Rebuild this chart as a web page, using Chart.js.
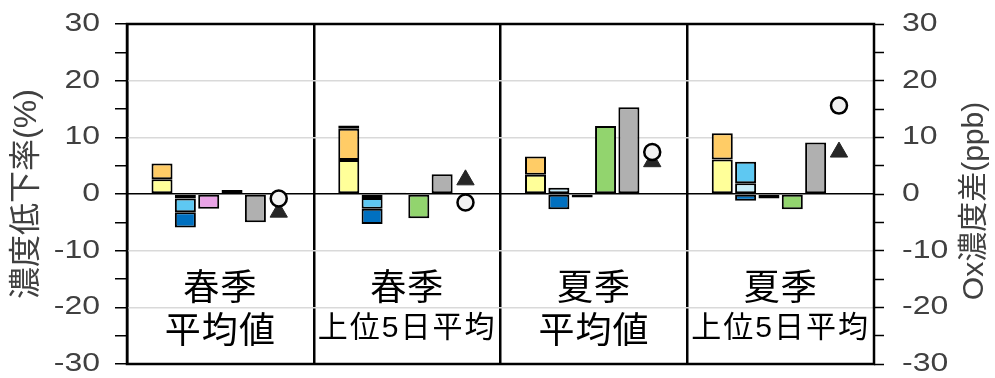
<!DOCTYPE html>
<html>
<head>
<meta charset="utf-8">
<script src="https://cdn.jsdelivr.net/npm/chart.js@4.4.1/dist/chart.umd.min.js"></script>
<style>
  html, body { margin: 0; padding: 0; background: #fff; }
  canvas { display: block; }
</style>
</head>
<body>
<canvas id="chart" width="995" height="378"></canvas>
<script>
// 4 panels: season / period
const seasons = ['春季', '春季', '夏季', '夏季'];
const periods = ['平均値', '上位5日平均', '平均値', '上位5日平均'];

// 濃度低下率(%) - stacked bar 1
const yellowPart = [2.6, 6.0, 3.4, 6.1];
const orangePart = [2.8, 5.5, 3.2, 4.6];
const brownPart = [null, 0.6, null, null];
// stacked bar 2
const palePart = [-0.8, -0.7, 1.1, 1.9];
const skyPart = [-2.4, -1.9, null, 3.8];
const bluePart = [-2.7, -2.7, -2.7, -1.2];
// single bars
const pinkBar = [-2.6, 0.2, -0.6, -0.8];
const greenBar = [0.7, -4.3, 12.0, -2.7];
const grayBar = [-5.0, 3.5, 15.3, 9.1];

// Ox濃度差(ppb)
const oxCircle = [-0.8, -1.5, 7.4, 15.6];
const oxTriangle = [-3.2, 2.5, 5.7, 7.4];

const yTicks = [-30, -20, -10, 0, 10, 20, 30];

// each panel has 8 slots: empty, bar1, bar2, pink, green, gray, markers, empty
const SLOTS = 8;
const slotLabels = [];
for (let p = 0; p < seasons.length; p++) {
	for (let s = 0; s < SLOTS; s++) {
		slotLabels.push(p + '-' + s);
	}
}

function spread(values, slot) {
	const out = new Array(slotLabels.length).fill(null);
	for (let p = 0; p < values.length; p++) {
		out[p * SLOTS + slot] = values[p];
	}
	return out;
}

function barSet(values, slot, color) {
	return {
		data: spread(values, slot),
		backgroundColor: color,
		borderColor: '#000000',
		borderWidth: 2,
		borderSkipped: false,
		barPercentage: 0.9,
		categoryPercentage: 1.0,
		yAxisID: 'y',
	};
}

const datasets = [
	{
		type: 'line',
		data: spread(oxCircle, 6),
		yAxisID: 'y2',
		showLine: false,
		pointStyle: 'circle',
		pointRadius: 8,
		pointBackgroundColor: '#f2f2f2',
		pointBorderColor: '#000000',
		pointBorderWidth: 2.5,
	},
	{
		type: 'line',
		data: spread(oxTriangle, 6),
		yAxisID: 'y2',
		showLine: false,
		pointStyle: 'triangle',
		pointRadius: 10,
		pointBackgroundColor: '#262626',
		pointBorderColor: '#262626',
		pointBorderWidth: 1,
	},
	barSet(yellowPart, 1, '#ffff99'),
	barSet(orangePart, 1, '#ffcc66'),
	barSet(brownPart, 1, '#c55a11'),
	barSet(palePart, 2, '#c9eefa'),
	barSet(skyPart, 2, '#5ec8f2'),
	barSet(bluePart, 2, '#0070c0'),
	barSet(pinkBar, 3, '#e9a3e6'),
	barSet(greenBar, 4, '#92d46e'),
	barSet(grayBar, 5, '#b0b0b0'),
];

// tick labels are drawn a little wide, like the original sheet
function drawTickLabels(ctx, scale, x, align) {
	ctx.save();
	ctx.fillStyle = '#404040';
	ctx.font = '25px "Liberation Sans"';
	ctx.textAlign = align;
	ctx.textBaseline = 'middle';
	for (const t of scale.ticks) {
		if (!yTicks.includes(t.value)) continue;
		const y = scale.getPixelForValue(t.value);
		ctx.save();
		ctx.translate(x, y);
		ctx.scale(1.28, 1);
		ctx.fillText(String(t.value), 0, 0);
		ctx.restore();
	}
	ctx.restore();
}

// frame, panel captions, tick labels and rotated axis titles
const decorations = {
	id: 'decorations',
	afterDraw(chart) {
		const { ctx, chartArea, scales } = chart;
		ctx.save();
		ctx.strokeStyle = '#000000';
		ctx.lineWidth = 2.5;
		ctx.strokeRect(chartArea.left, chartArea.top, chartArea.right - chartArea.left, chartArea.bottom - chartArea.top);

		ctx.fillStyle = '#000000';
		ctx.textAlign = 'center';
		ctx.textBaseline = 'middle';
		for (let p = 0; p < seasons.length; p++) {
			const cx = (scales.x.getPixelForValue(p * SLOTS + 3) + scales.x.getPixelForValue(p * SLOTS + 4)) / 2;
			ctx.letterSpacing = '1px';
			ctx.font = '36px "Noto Sans CJK JP"';
			ctx.fillText(seasons[p], cx, scales.y.getPixelForValue(-16.3));
			if (periods[p].length > 3) {
				ctx.letterSpacing = '2px';
				ctx.font = '30px "Liberation Sans", "Noto Sans CJK JP"';
			}
			ctx.fillText(periods[p], cx, scales.y.getPixelForValue(-23.8));
		}
		ctx.letterSpacing = '0px';

		ctx.fillStyle = '#404040';
		ctx.font = '32px "Liberation Sans", "Noto Sans CJK JP"';
		ctx.translate(27, (chartArea.top + chartArea.bottom) / 2);
		ctx.rotate(-Math.PI / 2);
		ctx.fillText('濃度低下率(%)', 0, 0);
		ctx.restore();

		ctx.save();
		ctx.fillStyle = '#404040';
		ctx.textAlign = 'center';
		ctx.textBaseline = 'middle';
		ctx.font = '30px "Liberation Sans", "Noto Sans CJK JP"';
		ctx.translate(975, (chartArea.top + chartArea.bottom) / 2 + 7);
		ctx.rotate(-Math.PI / 2);
		ctx.fillText('Ox濃度差(ppb)', 0, 0);
		ctx.restore();

		drawTickLabels(ctx, scales.y, 100, 'right');
		drawTickLabels(ctx, scales.y2, 902, 'left');
	},
};

const config = {
	type: 'bar',
	data: {
		labels: slotLabels,
		datasets: datasets,
	},
	options: {
		responsive: false,
		animation: false,
		layout: {
			padding: { top: 24, bottom: 14, left: 0, right: 0 },
		},
		plugins: {
			legend: { display: false },
			tooltip: { enabled: false },
		},
		scales: {
			x: {
				stacked: true,
				ticks: { display: false },
				border: { display: false },
				grid: {
					offset: true,
					drawTicks: false,
					color: (c) => (c.index % SLOTS === 0 ? '#000000' : 'rgba(0,0,0,0)'),
					lineWidth: 2.5,
				},
				afterFit: (s) => { s.height = 0; },
			},
			y: {
				stacked: true,
				min: -30,
				max: 30,
				border: { display: false },
				ticks: {
					display: false,
					stepSize: 5,
					autoSkip: false,
				},
				grid: {
					color: (c) => {
						const v = c.tick.value;
						if (v === 0) return '#000000';
						if (v % 10 === 0 && Math.abs(v) < 30) return '#d9d9d9';
						return 'rgba(0,0,0,0)';
					},
					lineWidth: 1.5,
					tickLength: 12,
					tickColor: '#000000',
					tickWidth: 1.5,
				},
				afterFit: (s) => { s.width = 127; s.paddingTop = 0; s.paddingBottom = 0; },
			},
			y2: {
				position: 'right',
				min: -30,
				max: 30,
				border: { display: false },
				ticks: {
					display: false,
					stepSize: 5,
					autoSkip: false,
				},
				grid: {
					drawOnChartArea: false,
					tickLength: 10,
					tickColor: '#000000',
					tickWidth: 1.5,
				},
				afterFit: (s) => { s.width = 121; s.paddingTop = 0; s.paddingBottom = 0; },
			},
		},
	},
	plugins: [decorations],
};

const myChart = new Chart(document.getElementById('chart'), config);
</script>
</body>
</html>
